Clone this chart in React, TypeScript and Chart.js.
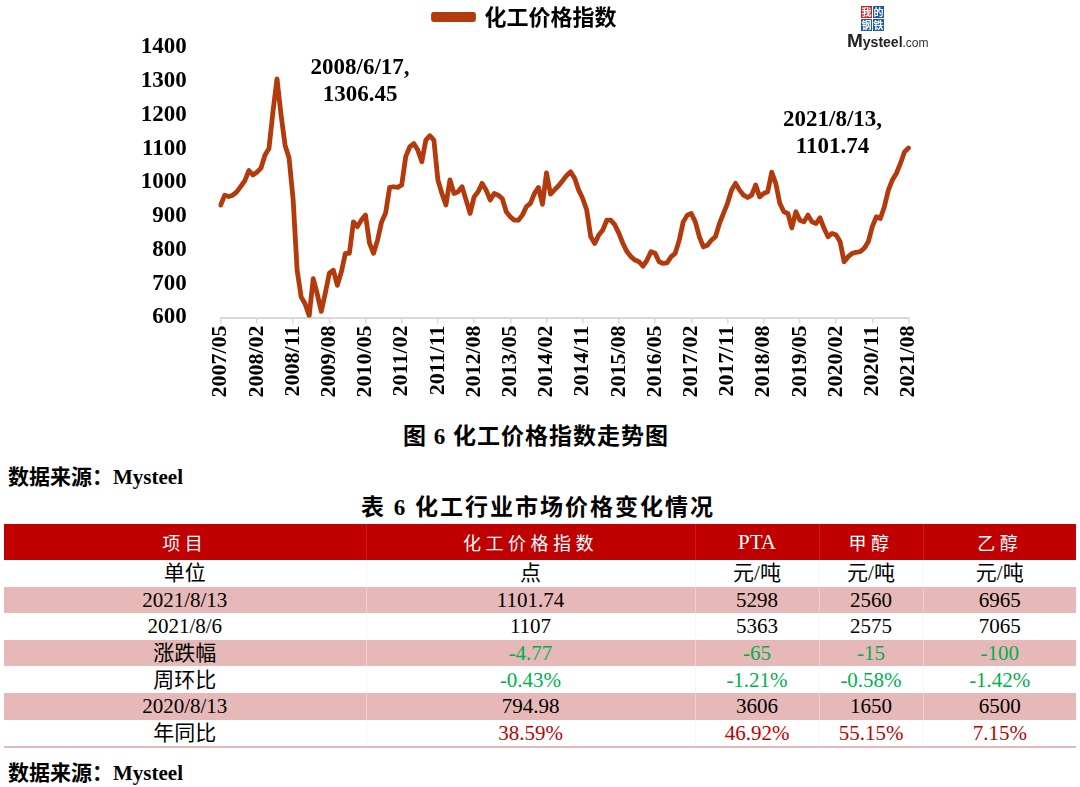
import React, { useEffect, useRef } from 'react';
import { Chart, registerables } from 'chart.js';

Chart.register(...registerables);

// ---------- data ----------
const seriesName = '化工价格指数';

// monthly categories 2007/05 .. 2021/08
const monthLabels: string[] = (() => {
  const out: string[] = [];
  let y = 2007;
  let m = 5;
  while (y < 2021 || (y === 2021 && m <= 8)) {
    out.push(`${y}/${m < 10 ? '0' + m : m}`);
    m += 1;
    if (m > 12) { m = 1; y += 1; }
  }
  return out;
})();

const indexValues: number[] = [
  // 2007/05 - 2008/04
  933, 962, 958, 962, 972, 988, 1005, 1035, 1022, 1030, 1042, 1080,
  // 2008/05 - 2009/04
  1100, 1210, 1306.45, 1200, 1110, 1072, 950, 740, 661, 640, 605, 715,
  // 2009/05 - 2010/04
  670, 618, 672, 731, 740, 695, 735, 790, 790, 883, 869, 889,
  // 2010/05 - 2011/04
  903, 820, 790, 829, 883, 909, 985, 987, 985, 992, 1076, 1105,
  // 2011/05 - 2012/04
  1115, 1096, 1061, 1125, 1138, 1125, 1007, 967, 933, 1007, 967, 972,
  // 2012/05 - 2013/04
  987, 948, 908, 957, 972, 997, 977, 948, 967, 962, 952, 913,
  // 2013/05 - 2014/04
  898, 888, 888, 903, 928, 938, 967, 985, 935, 1028, 965, 978,
  // 2014/05 - 2015/04
  990, 1005, 1020, 1031, 1012, 977, 952, 918, 839, 819, 844, 859,
  // 2015/05 - 2016/04
  888, 888, 874, 849, 819, 795, 780, 770, 765, 752, 770, 795,
  // 2016/05 - 2017/04
  790, 765, 760, 762, 780, 790, 829, 883, 903, 908, 883, 839,
  // 2017/05 - 2018/04
  809, 814, 829, 839, 878, 908, 938, 977, 997, 977, 962, 955,
  // 2018/05 - 2019/04
  962, 992, 957, 967, 972, 1030, 997, 938, 913, 908, 865, 913,
  // 2019/05 - 2020/04
  888, 883, 903, 883, 878, 895, 864, 839, 849, 844, 824, 765,
  // 2020/05 - 2021/04
  780, 790, 793, 795, 805, 824, 869, 898, 893, 928, 977, 1007,
  // 2021/05 - 2021/08
  1027, 1056, 1090, 1101.74,
];

const tickStep = 9; // a tick label every 9 months
const yMin = 600;
const yMax = 1400;
const yStep = 100;

const peakNote = { index: 14, lines: ['2008/6/17,', '1306.45'] };
const lastNote = { index: 171, lines: ['2021/8/13,', '1101.74'] };

const figureCaption = '图 6 化工价格指数走势图';
const tableCaption = '表 6 化工行业市场价格变化情况';
const sourceText = '数据来源：Mysteel';

const tableHeader = ['项目', '化工价格指数', 'PTA', '甲醇', '乙醇'];
const tableRows: string[][] = [
  ['单位', '点', '元/吨', '元/吨', '元/吨'],
  ['2021/8/13', '1101.74', '5298', '2560', '6965'],
  ['2021/8/6', '1107', '5363', '2575', '7065'],
  ['涨跌幅', '-4.77', '-65', '-15', '-100'],
  ['周环比', '-0.43%', '-1.21%', '-0.58%', '-1.42%'],
  ['2020/8/13', '794.98', '3606', '1650', '6500'],
  ['年同比', '38.59%', '46.92%', '55.15%', '7.15%'],
];

// ---------- styles ----------
const LINE = '#B23A0C';
const SERIF = '"Liberation Serif", "Times New Roman", serif';
const CJK = '"Noto Sans CJK SC", sans-serif';
const MIXED = '"Liberation Serif", "Noto Sans CJK SC", serif';

const noteOffsets = [
  { dx: 83, dy: -11 },
  { dx: -76, dy: -28 },
];

const notesPlugin = {
  id: 'pointNotes',
  afterDatasetsDraw(chart: any) {
    const { ctx, scales } = chart;
    const x = scales.x;
    const y = scales.y;
    ctx.save();
    ctx.font = `bold 23px ${SERIF}`;
    ctx.fillStyle = '#000';
    ctx.textAlign = 'center';
    ctx.textBaseline = 'middle';
    [peakNote, lastNote].forEach((n, k) => {
      const px = x.getPixelForValue(n.index);
      const py = y.getPixelForValue(indexValues[n.index]);
      n.lines.forEach((t, i) => {
        ctx.fillText(t, px + noteOffsets[k].dx, py + noteOffsets[k].dy + i * 27);
      });
    });
    ctx.restore();
  },
};

function IndexChart() {
  const ref = useRef<HTMLCanvasElement | null>(null);
  useEffect(() => {
    if (!ref.current) return;
    const chart = new Chart(ref.current, {
      type: 'line',
      data: {
        labels: monthLabels,
        datasets: [
          {
            label: seriesName,
            data: indexValues,
            borderColor: LINE,
            backgroundColor: LINE,
            borderWidth: 4.8,
            pointRadius: 0,
            tension: 0,
            borderJoinStyle: 'round',
            borderCapStyle: 'round',
          },
        ],
      },
      options: {
        animation: false,
        responsive: false,
        maintainAspectRatio: false,
        layout: { padding: { left: 141.5, right: 171.5, top: 0, bottom: 0 } },
        plugins: {
          legend: {
            display: true,
            position: 'top',
            labels: {
              boxWidth: 40,
              boxHeight: 5,
              padding: 19,
              color: '#000',
              font: { family: CJK, size: 22, weight: 'bold' },
            },
          },
          subtitle: {
            display: true,
            text: ' ',
            weight: 500,
            padding: { top: 0, bottom: 8 },
            font: { size: 1 },
          },
          tooltip: { enabled: false },
        },
        scales: {
          x: {
            type: 'category',
            offset: false,
            grid: {
              display: true,
              drawOnChartArea: false,
              drawTicks: true,
              tickLength: 6,
              color: '#d9d9d9',
              lineWidth: 1.5,
            },
            border: { display: true, color: '#d9d9d9', width: 2 },
            ticks: {
              autoSkip: false,
              maxRotation: 90,
              minRotation: 90,
              padding: 2,
              color: '#000',
              font: { family: SERIF, size: 22, weight: 'bold' },
              callback: (_v: any, i: number) => (i % tickStep === 0 ? monthLabels[i] : null),
            },
            afterFit: (s: any) => { s.height = 92.5; },
          },
          y: {
            min: yMin,
            max: yMax,
            ticks: {
              stepSize: yStep,
              padding: 26,
              color: '#000',
              font: { family: SERIF, size: 23, weight: 'bold' },
              callback: (v: any) => String(v),
            },
            grid: { display: false },
            border: { display: false },
            afterFit: (s: any) => { s.width = 79.2; },
          },
        },
      },
      plugins: [notesPlugin],
    } as any);
    return () => chart.destroy();
  }, []);
  return (
    <canvas
      ref={ref}
      width={1080}
      height={423}
      style={{ position: 'absolute', left: 0, top: -13, width: 1080, height: 423 }}
    />
  );
}

function Logo() {
  const box = (ch: string, bg: string, left: number, top: number) => (
    <div
      style={{
        position: 'absolute', left, top, width: 11, height: 12, background: bg,
        color: '#fff', fontFamily: CJK, fontSize: 10, fontWeight: 'bold',
        lineHeight: '12px', textAlign: 'center',
      }}
    >{ch}</div>
  );
  return (
    <div style={{ position: 'absolute', left: 846, top: 5, width: 100, height: 46 }}>
      {box('我', '#D81E1E', 15, 1)}
      {box('的', '#1D5BA8', 27, 1)}
      {box('钢', '#1D5BA8', 15, 14)}
      {box('铁', '#1D5BA8', 27, 14)}
      <div style={{ position: 'absolute', left: 1, top: 28, whiteSpace: 'nowrap', fontFamily: '"Liberation Sans", Arial, sans-serif', color: '#222', lineHeight: '16px' }}>
        <span style={{ fontSize: 19, fontWeight: 'bold' }}>M</span>
        <span style={{ fontSize: 14, fontWeight: 'bold' }}>ysteel</span>
        <span style={{ fontSize: 12, color: '#333' }}>.com</span>
      </div>
    </div>
  );
}

const colWidths = [362, 329, 124, 104, 153];
const pinkRows = new Set([1, 3, 5]);

function cellColor(r: number, c: number): string {
  if (c === 0) return '#000';
  if (r === 3 || r === 4) return '#00B050';
  if (r === 6) return '#C00000';
  return '#000';
}

function DataTable() {
  return (
    <table
      style={{
        position: 'absolute', left: 4, top: 524, width: 1072, borderCollapse: 'collapse',
        tableLayout: 'fixed', borderBottom: '2px solid #E6B8B7',
      }}
    >
      <colgroup>
        {colWidths.map((w, i) => <col key={i} style={{ width: w }} />)}
      </colgroup>
      <thead>
        <tr style={{ background: '#C00000', height: 36 }}>
          {tableHeader.map((h, i) => (
            <th
              key={i}
              style={{
                color: '#fff', fontFamily: i === 2 ? SERIF : CJK, fontWeight: 'normal',
                fontSize: i === 2 ? 21 : 18, letterSpacing: i === 2 ? 0 : 4.5,
                textAlign: 'center', padding: 0,
                borderRight: i < 4 ? '1px solid rgba(255,255,255,0.12)' : 'none',
              }}
            >{h}</th>
          ))}
        </tr>
      </thead>
      <tbody>
        {tableRows.map((row, r) => (
          <tr key={r} style={{ background: pinkRows.has(r) ? '#E6B8B7' : '#fff', height: 26.6 }}>
            {row.map((v, c) => (
              <td
                key={c}
                style={{
                  color: cellColor(r, c), fontFamily: MIXED, fontSize: 21, textAlign: 'center',
                  padding: 0, lineHeight: '26px',
                  borderRight: c < 4 ? `1px solid ${pinkRows.has(r) ? 'rgba(255,255,255,0.35)' : 'rgba(0,0,0,0.04)'}` : 'none',
                }}
              >{v}</td>
            ))}
          </tr>
        ))}
      </tbody>
    </table>
  );
}

export default function App() {
  return (
    <div style={{ position: 'absolute', left: 0, top: 0, width: 1080, height: 787, background: '#fff', overflow: 'hidden' }}>
      <IndexChart />
      <Logo />
      <div style={{ position: 'absolute', left: 0, width: 1072, top: 423, textAlign: 'center', fontFamily: MIXED, fontWeight: 'bold', fontSize: 23, letterSpacing: 1, lineHeight: '28px', color: '#000' }}>
        {figureCaption}
      </div>
      <div style={{ position: 'absolute', left: 8, top: 464, fontFamily: MIXED, fontWeight: 'bold', fontSize: 21, lineHeight: '26px', color: '#000' }}>
        {sourceText}
      </div>
      <div style={{ position: 'absolute', left: 0, width: 1076, top: 494, textAlign: 'center', fontFamily: MIXED, fontWeight: 'bold', fontSize: 23, letterSpacing: 2, lineHeight: '28px', color: '#000' }}>
        {tableCaption}
      </div>
      <DataTable />
      <div style={{ position: 'absolute', left: 8, top: 760, fontFamily: MIXED, fontWeight: 'bold', fontSize: 21, lineHeight: '26px', color: '#000' }}>
        {sourceText}
      </div>
    </div>
  );
}
